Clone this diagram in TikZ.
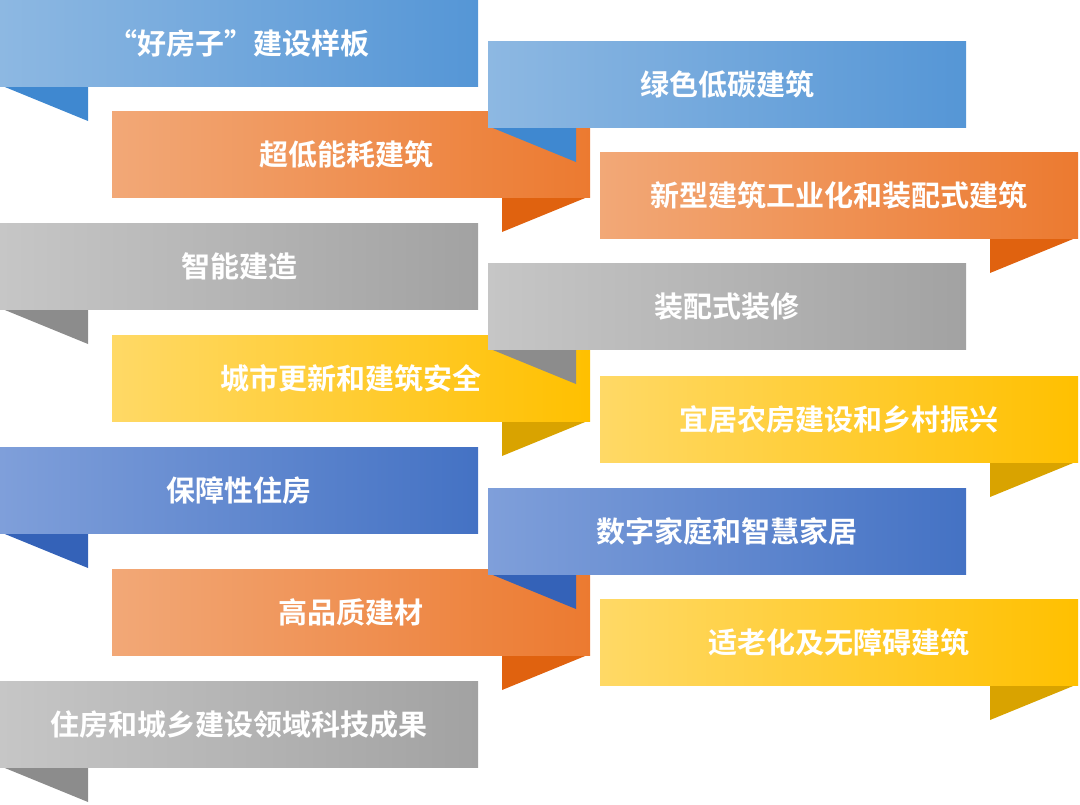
\documentclass[tikz,border=0pt]{standalone}
\usepackage{fontspec}
\newfontfamily\cjk{Noto Sans CJK SC Bold}
\begin{document}
\begin{tikzpicture}[x=1pt,y=-1pt,
  band/.style={rectangle,inner sep=0pt,minimum width=478pt,minimum height=86pt,anchor=north west,font=\cjk\fontsize{29}{29}\selectfont,text=white},
]
\useasboundingbox (0,0) rectangle (1080,804);
\colorlet{bL}{blue!0}
\definecolor{bl1}{HTML}{8DB8E2}\definecolor{bl2}{HTML}{5596D6}\definecolor{blf}{HTML}{3F88D0}
\definecolor{or1}{HTML}{F2A877}\definecolor{or2}{HTML}{EC7A30}\definecolor{orf}{HTML}{E0620F}
\definecolor{gr1}{HTML}{C6C6C6}\definecolor{gr2}{HTML}{A2A2A2}\definecolor{grf}{HTML}{8C8C8C}
\definecolor{ye1}{HTML}{FFD966}\definecolor{ye2}{HTML}{FFC000}\definecolor{yef}{HTML}{D9A300}
\definecolor{db1}{HTML}{7F9FDA}\definecolor{db2}{HTML}{4472C4}\definecolor{dbf}{HTML}{3462B8}
% #1 name, #2 x, #3 y, #4 colour prefix, #5 side (L/R), #6 text
\newcommand\leftribbon[5]{%
  \fill[#4f] (#2,#3+85) -- (#2+88,#3+85) -- (#2+88,#3+121) -- cycle;
  \node[band,left color=#41,right color=#42] (#1) at (#2,#3) {#5};}
\newcommand\rightribbon[5]{%
  \fill[#4f] (#2+390,#3+85) -- (#2+478,#3+85) -- (#2+390,#3+121) -- cycle;
  \node[band,left color=#41,right color=#42] (#1) at (#2,#3) {#5};}
% left column
\leftribbon{a1}{0}{0}{bl}{“好房子”建设样板}
\rightribbon{a2}{112}{111}{or}{\hspace*{-10pt}超低能耗建筑}
\leftribbon{a3}{0}{223}{gr}{智能建造}
\rightribbon{a4}{112}{335}{ye}{城市更新和建筑安全}
\leftribbon{a5}{0}{447}{db}{保障性住房}
\rightribbon{a6}{112}{569}{or}{高品质建材}
\leftribbon{a7}{0}{681}{gr}{住房和城乡建设领域科技成果}
% right column
\leftribbon{b1}{488}{41}{bl}{绿色低碳建筑}
\rightribbon{b2}{600}{152}{or}{新型建筑工业化和装配式建筑}
\leftribbon{b3}{488}{263}{gr}{装配式装修}
\rightribbon{b4}{600}{376}{ye}{宜居农房建设和乡村振兴}
\leftribbon{b5}{488}{488}{db}{数字家庭和智慧家居}
\rightribbon{b6}{600}{599}{ye}{适老化及无障碍建筑}
\end{tikzpicture}
\end{document}
